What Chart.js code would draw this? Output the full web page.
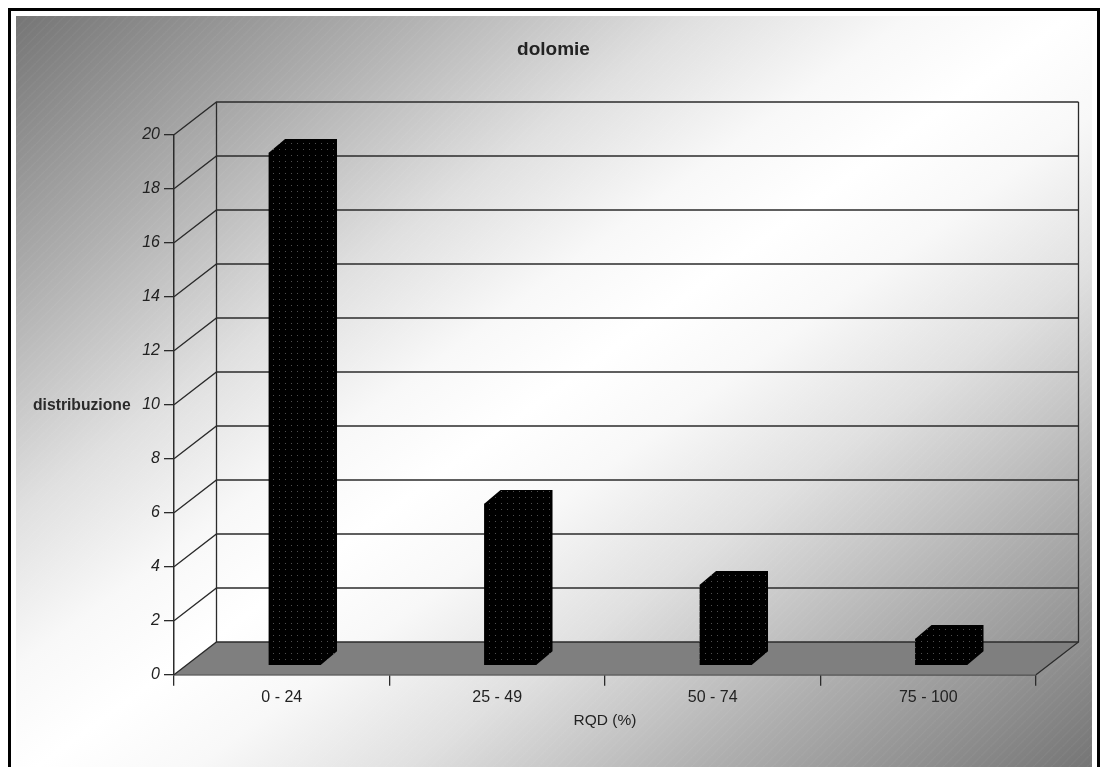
<!DOCTYPE html>
<html><head><meta charset="utf-8">
<style>html,body{margin:0;padding:0;background:#fff}canvas{display:block}#w{width:1102px;height:767px;position:relative}</style>
<script src="https://cdn.jsdelivr.net/npm/chart.js@4"></script>
</head><body><div id="w"><canvas id="c" width="1102" height="767"></canvas></div>
<script>
const categories = ['0 - 24','25 - 49','50 - 74','75 - 100'];
const distribuzione = [19, 6, 3, 1];
const chartTitle = 'dolomie';
const xTitle = 'RQD (%)';
const yTitle = 'distribuzione';
const FONT = '"Liberation Sans", Arial, sans-serif';
const INK = '#222';
const DEPTH = {x: 42.5, y: -32.7};      // wall offset
const BAR_SHIFT = {x: 13, y: -9};       // bars stand inside the floor
const BAR_DEPTH = {x: 16.3, y: -13.8};

const ctx0 = document.getElementById('c').getContext('2d');
function dots(){
  const p = document.createElement('canvas'); p.width = 6; p.height = 6;
  const g = p.getContext('2d');
  g.fillStyle = '#000'; g.fillRect(0,0,6,6);
  g.fillStyle = '#4e4e4e'; g.fillRect(2,2,1,1);
  return ctx0.createPattern(p,'repeat');
}
function stripes(){
  const p = document.createElement('canvas'); p.width = 9; p.height = 9;
  const g = p.getContext('2d');
  g.strokeStyle = 'rgba(255,255,255,0.035)'; g.lineWidth = 1.5;
  g.beginPath(); g.moveTo(-1,10); g.lineTo(10,-1); g.stroke();
  return ctx0.createPattern(p,'repeat');
}
const pattern = dots();
const texture = stripes();

const scene = {
  id:'scene',
  beforeDraw(chart){
    const {ctx} = chart;
    ctx.save();
    ctx.fillStyle='#fff'; ctx.fillRect(0,0,1102,767);
    const g = ctx.createLinearGradient(189,-111,919,893);
    [[0,'#757575'],[0.18,'#aeaeae'],[0.325,'#e0e0e0'],[0.425,'#f8f8f8'],[0.5,'#ffffff'],
     [0.575,'#f8f8f8'],[0.675,'#e0e0e0'],[0.82,'#aeaeae'],[1,'#757575']].forEach(s=>g.addColorStop(s[0],s[1]));
    ctx.fillStyle=g; ctx.fillRect(16,16,1076,751);
    ctx.fillStyle=texture; ctx.fillRect(16,16,1076,751);
    ctx.fillStyle='#000';
    ctx.fillRect(8,8,1092,3); ctx.fillRect(8,8,3,759); ctx.fillRect(1097,8,3,759);
    ctx.restore();
  },
  beforeDatasetsDraw(chart){
    const {ctx, scales:{x,y}} = chart;
    const L=x.left, R=x.right, B=y.getPixelForValue(0), T=y.getPixelForValue(20);
    const dx=DEPTH.x, dy=DEPTH.y;
    ctx.save();
    ctx.fillStyle='#7f7f7f';
    ctx.beginPath(); ctx.moveTo(L,B); ctx.lineTo(L+dx,B+dy); ctx.lineTo(R+dx,B+dy); ctx.lineTo(R,B); ctx.closePath(); ctx.fill();
    ctx.strokeStyle='#2b2b2b'; ctx.lineWidth=1.3;
    y.ticks.forEach(t=>{
      const p=y.getPixelForValue(t.value);
      ctx.beginPath(); ctx.moveTo(L,p); ctx.lineTo(L+dx,p+dy); ctx.lineTo(R+dx,p+dy); ctx.stroke();
    });
    ctx.beginPath();
    ctx.moveTo(L+dx,T+dy); ctx.lineTo(L+dx,B+dy);
    ctx.moveTo(R+dx,T+dy); ctx.lineTo(R+dx,B+dy); ctx.lineTo(R,B);
    ctx.stroke();
    ctx.restore();
  },
  beforeDatasetDraw(chart){
    const {ctx} = chart;
    ctx.save();
    ctx.translate(BAR_SHIFT.x, BAR_SHIFT.y);
    chart.getDatasetMeta(0).data.forEach(b=>{
      const l=b.x-b.width/2, r=b.x+b.width/2, t=b.y, bt=b.base;
      ctx.fillStyle=pattern;
      ctx.beginPath();
      ctx.moveTo(l,t); ctx.lineTo(l+BAR_DEPTH.x,t+BAR_DEPTH.y); ctx.lineTo(r+BAR_DEPTH.x,t+BAR_DEPTH.y);
      ctx.lineTo(r+BAR_DEPTH.x,bt+BAR_DEPTH.y); ctx.lineTo(r,bt); ctx.lineTo(l,bt); ctx.closePath(); ctx.fill();
    });
  },
  afterDatasetDraw(chart){ chart.ctx.restore(); },
  afterDraw(chart){
    const {ctx, scales:{y}} = chart;
    ctx.save();
    ctx.font='bold 15.7px '+FONT; ctx.fillStyle='#2a2a2a'; ctx.textAlign='left'; ctx.textBaseline='middle';
    ctx.fillText(yTitle,33,y.getPixelForValue(10)+1);
    ctx.restore();
  }
};

new Chart(document.getElementById('c'),{
  type:'bar',
  data:{labels:categories,datasets:[{label:yTitle,data:distribuzione,backgroundColor:pattern,borderWidth:0,
    categoryPercentage:1,barPercentage:0.241,clip:false}]},
  plugins:[scene],
  options:{
    responsive:false,animation:false,
    layout:{padding:{left:71,right:66,top:0,bottom:0}},
    plugins:{
      legend:{display:false},tooltip:{enabled:false},
      title:{display:true,text:chartTitle,color:INK,font:{family:FONT,size:19,weight:'bold'},padding:{top:38.6,bottom:73.3}}
    },
    scales:{
      x:{
        afterFit(s){s.height=92.3;},
        grid:{offset:true,drawOnChartArea:false,drawTicks:true,tickLength:11,color:'#2b2b2b',lineWidth:1.3},
        border:{color:'#2b2b2b',width:1.5},
        ticks:{color:INK,padding:2,font:{family:FONT,size:16},maxRotation:0},
        title:{display:true,text:xTitle,color:INK,font:{family:FONT,size:15.5},padding:{top:0,bottom:37}}
      },
      y:{
        min:0,max:20,
        afterFit(s){s.width=103;},
        grid:{drawOnChartArea:false,drawTicks:true,tickLength:10,color:'#2b2b2b',lineWidth:1.3},
        border:{color:'#2b2b2b',width:1.5},
        ticks:{stepSize:2,color:INK,padding:4,font:{family:FONT,size:16,style:'italic'}}
      }
    }
  }
});
</script></body></html>
